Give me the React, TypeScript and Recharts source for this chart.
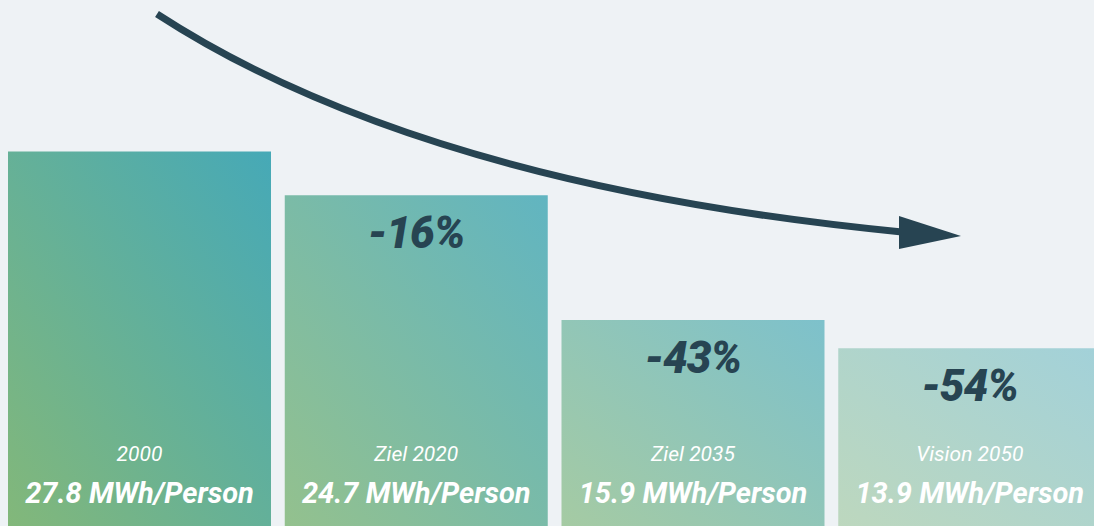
import { BarChart, Bar, XAxis, YAxis, Cell, LabelList } from "recharts"

const categories = ["2000", "Ziel 2020", "Ziel 2035", "Vision 2050"]
const perPerson = [27.8, 24.7, 15.9, 13.9]
const changes = ["", "-16%", "-43%", "-54%"]

const data = categories.map((name, i) => ({
  name,
  value: perPerson[i],
  change: changes[i],
}))

const barOpacity = [1, 0.84, 0.67, 0.45]
const ink = "#274452"
const bg = "#eef2f5"
const font = "Roboto, 'Noto Sans', sans-serif"

function BarText(props: any) {
  const { x, y, width, height, index } = props
  const d = data[index]
  const cx = x + width / 2
  const bottom = y + height
  return (
    <g>
      {d.change && (
        <text
          x={cx}
          y={y + 53}
          textAnchor="middle"
          fill={ink}
          fontFamily={font}
          fontStyle="italic"
          fontWeight={900}
          fontSize={44}
          letterSpacing={-1}
        >
          {d.change}
        </text>
      )}
      <text
        x={cx}
        y={bottom - 84}
        textAnchor="middle"
        fill="#ffffff"
        fontFamily={font}
        fontStyle="italic"
        fontWeight={400}
        fontSize={21}
      >
        {d.name}
      </text>
      <text
        x={cx}
        y={bottom - 42}
        textAnchor="middle"
        fill="#ffffff"
        fontFamily={font}
        fontStyle="italic"
        fontWeight={700}
        fontSize={29}
      >
        {d.value.toFixed(1)} MWh/Person
      </text>
    </g>
  )
}

export default function App() {
  return (
    <div
      style={{
        position: "absolute",
        left: 0,
        top: 0,
        width: 1094,
        height: 526,
        overflow: "hidden",
        background: bg,
      }}
    >
      <BarChart
        width={1108}
        height={545}
        data={data}
        margin={{ top: 0, right: 0, bottom: 0, left: 1 }}
        barSize={263}
      >
        <defs>
          <linearGradient id="barGrad" x1="0" y1="1" x2="1" y2="0">
            <stop offset="0%" stopColor="#84b878" />
            <stop offset="100%" stopColor="#46a9b7" />
          </linearGradient>
        </defs>
        <XAxis dataKey="name" hide />
        <YAxis hide domain={[0, 38.5]} />
        <Bar dataKey="value" isAnimationActive={false}>
          {data.map((d, i) => (
            <Cell key={d.name} fill="url(#barGrad)" fillOpacity={barOpacity[i]} />
          ))}
          <LabelList dataKey="value" content={<BarText />} />
        </Bar>
      </BarChart>
      <svg
        width={1094}
        height={526}
        style={{ position: "absolute", left: 0, top: 0, pointerEvents: "none" }}
      >
        <path
          d="M157,14 Q420,185 902,232"
          fill="none"
          stroke={ink}
          strokeWidth={7}
        />
        <polygon points="899,216 899,249 961,236" fill={ink} />
      </svg>
    </div>
  )
}
